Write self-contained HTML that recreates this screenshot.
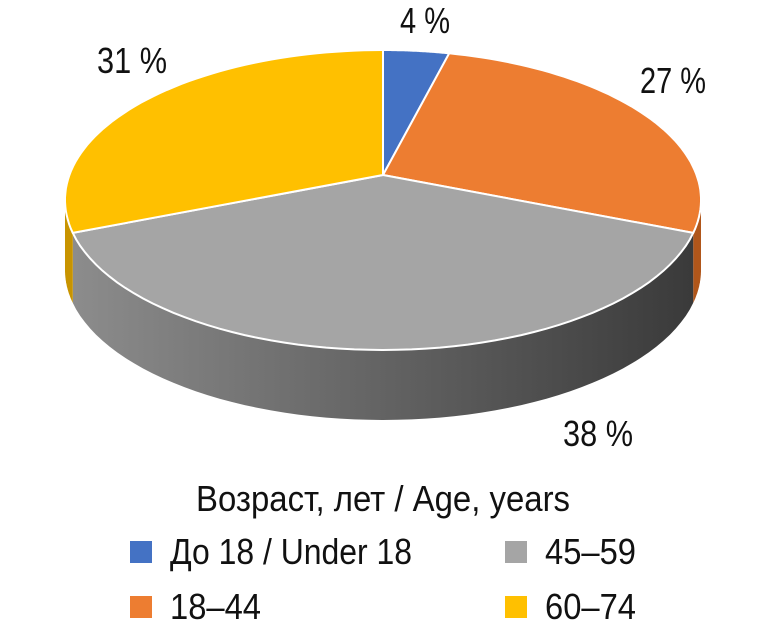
<!DOCTYPE html>
<html><head><meta charset="utf-8"><style>
body{margin:0;background:#fff}
svg{display:block}
text{font-family:"Liberation Sans Narrow","Liberation Sans",sans-serif;fill:#111}
</style></head><body>
<svg id="chart" width="768" height="622" viewBox="0 0 768 622">
<defs>
<linearGradient id="gside" x1="0" x2="1" y1="0" y2="0">
<stop offset="0" stop-color="#8c8c8c"/><stop offset="1" stop-color="#3a3a3a"/></linearGradient>
</defs>
<g id="sides"></g>
<g id="tops"></g>
<g font-size="36">
<text x="400" y="33" textLength="50" lengthAdjust="spacingAndGlyphs">4 %</text>
<text x="640" y="93" textLength="66" lengthAdjust="spacingAndGlyphs">27 %</text>
<text x="97" y="73" textLength="70" lengthAdjust="spacingAndGlyphs">31 %</text>
<text x="563" y="446" textLength="70" lengthAdjust="spacingAndGlyphs">38 %</text>
</g>
<g font-size="36">
<text x="196" y="511" textLength="374" lengthAdjust="spacingAndGlyphs">Возраст, лет / Age, years</text>
<rect x="130" y="541" width="22" height="22" fill="#4472C4"/>
<text x="170" y="564" textLength="242" lengthAdjust="spacingAndGlyphs">До 18 / Under 18</text>
<rect x="505" y="541" width="22" height="22" fill="#A5A5A5"/>
<text x="545" y="564" textLength="91" lengthAdjust="spacingAndGlyphs">45–59</text>
<rect x="130" y="596" width="22" height="22" fill="#ED7D31"/>
<text x="170" y="619" textLength="91" lengthAdjust="spacingAndGlyphs">18–44</text>
<rect x="505" y="596" width="22" height="22" fill="#FFC000"/>
<text x="545" y="619" textLength="91" lengthAdjust="spacingAndGlyphs">60–74</text>
</g>
</svg>
<script>
const categories = ["До 18", "18–44", "45–59", "60–74"];
const values = [4, 27, 38, 31];
const topColors = ["#4472C4", "#ED7D31", "#A5A5A5", "#FFC000"];
const sideColors = ["#2f5597", "#b0561a", "url(#gside)", "#c89400"];

const NS = "http://www.w3.org/2000/svg";
const P = {x:383, y:175}, C = {x:383, y:200}, RX = 318, RY = 150, D = 70;
const total = values.reduce((a,b)=>a+b,0);

function rimAngle(a){
  const dx = Math.sin(a)*RX, dy = -Math.cos(a)*RY;
  const ox = P.x - C.x, oy = P.y - C.y;
  const A = (dx/RX)**2 + (dy/RY)**2;
  const B = 2*(ox*dx/RX/RX + oy*dy/RY/RY);
  const Cc = (ox/RX)**2 + (oy/RY)**2 - 1;
  const t = (-B + Math.sqrt(B*B - 4*A*Cc))/(2*A);
  const x = ox + dx*t, y = oy + dy*t;
  return Math.atan2(x/RX, -y/RY);
}
function pt(th, off){ return [C.x + RX*Math.sin(th), C.y - RY*Math.cos(th) + (off||0)]; }

const sides = document.getElementById('sides');
const tops = document.getElementById('tops');
let acc = 0;
values.forEach((v,i)=>{
  const a1 = acc/total*2*Math.PI, a2 = (acc+v)/total*2*Math.PI;
  acc += v;
  let t1 = rimAngle(a1), t2 = rimAngle(a2);
  if (t1 < 0) t1 += 2*Math.PI;
  while (t2 <= t1) t2 += 2*Math.PI;
  let d = `M${P.x},${P.y}`;
  const n = 60;
  for (let k=0;k<=n;k++){ const p = pt(t1+(t2-t1)*k/n); d += `L${p[0].toFixed(1)},${p[1].toFixed(1)}`; }
  d += "Z";
  const top = document.createElementNS(NS,'path');
  top.setAttribute('d', d);
  top.setAttribute('fill', topColors[i]);
  top.setAttribute('stroke', '#fff');
  top.setAttribute('stroke-width', '2');
  
  
  tops.appendChild(top);
  for (const shift of [0, 2*Math.PI]){
    const s1 = Math.max(t1, Math.PI/2 + shift), s2 = Math.min(t2, 3*Math.PI/2 + shift);
    if (s2 <= s1) continue;
    let ds = "";
    for (let k=0;k<=n;k++){ const p = pt(s1+(s2-s1)*k/n); ds += (k?"L":"M")+p[0].toFixed(1)+","+p[1].toFixed(1); }
    for (let k=n;k>=0;k--){ const p = pt(s1+(s2-s1)*k/n, D); ds += "L"+p[0].toFixed(1)+","+p[1].toFixed(1); }
    ds += "Z";
    const side = document.createElementNS(NS,'path');
    side.setAttribute('d', ds);
    side.setAttribute('fill', sideColors[i]);
    
    
    sides.appendChild(side);
  }
});
</script>
</body></html>
